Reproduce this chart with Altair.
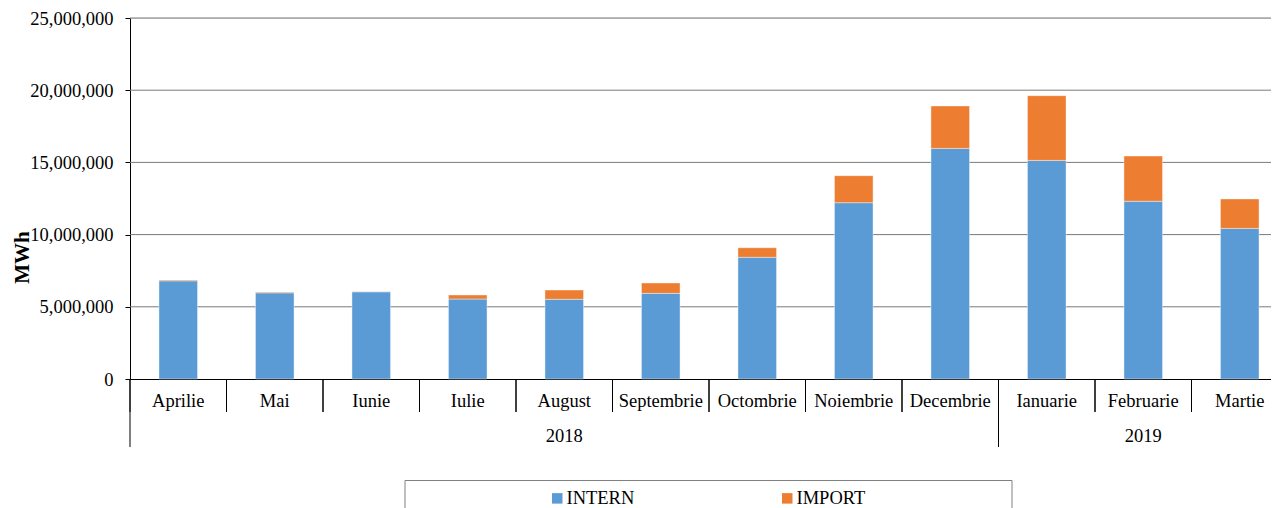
import altair as alt
import pandas as pd

months = ["Aprilie", "Mai", "Iunie", "Iulie", "August", "Septembrie", "Octombrie",
          "Noiembrie", "Decembrie", "Ianuarie", "Februarie", "Martie"]
years = ["2018"] * 9 + ["2019"] * 3
intern = [6800000, 5970000, 6040000, 5540000, 5520000, 5930000, 8430000,
          12210000, 15970000, 15140000, 12310000, 10430000]
imports = [60000, 50000, 25000, 280000, 640000, 720000, 660000,
           1870000, 2940000, 4480000, 3130000, 2040000]
series = ["INTERN", "IMPORT"]
colors = ["#5B9BD5", "#ED7D31"]
y_ticks = [0, 5000000, 10000000, 15000000, 20000000, 25000000]

FONT = "Liberation Serif"
FS = 18.5
PLOT_W = 1141      # visible plot width inside the page
SCALE_W = 1158     # full category range (reference plot runs past the right edge)

base = pd.DataFrame({"month": months, "year": years, "idx": list(range(len(months))),
                     "intern": intern, "imp": imports})

rows = []
for _, r in base.iterrows():
    rows.append({"month": r.month, "idx": r.idx, "series": "INTERN", "y0": 0, "y1": r.intern})
    rows.append({"month": r.month, "idx": r.idx, "series": "IMPORT", "y0": r.intern,
                 "y1": r.intern + r.imp})
long = pd.DataFrame(rows)

xscale = alt.Scale(domain=[0, len(months)], nice=False, zero=False, range=[0, SCALE_W])
yscale = alt.Scale(domain=[0, 25000000], nice=False)

grid = alt.Chart(pd.DataFrame({"v": y_ticks[1:]})).mark_rule(
    color="#7a7a7a", strokeWidth=1).encode(
    y=alt.Y("v:Q", scale=yscale), x=alt.value(0), x2=alt.value(SCALE_W))

bars = alt.Chart(long).transform_calculate(
    lo="datum.idx + 0.3", hi="datum.idx + 0.7"
).mark_bar(stroke="white", strokeWidth=0.6, strokeOpacity=0.7).encode(
    x=alt.X("lo:Q", scale=xscale,
            axis=alt.Axis(labels=False, ticks=False, grid=False, domainColor="black",
                          domainWidth=1, title=None)),
    x2="hi:Q",
    y=alt.Y("y0:Q", scale=yscale,
            axis=alt.Axis(values=y_ticks, format=",.0f", labelFont=FONT, labelFontSize=FS,
                          labelColor="black", tickColor="black", tickSize=5,
                          labelPadding=12, domainColor="black", grid=False,
                          title="MWh", titleFont=FONT, titleFontSize=21,
                          titleFontWeight="bold", titleColor="black", titleAngle=270,
                          titleAlign="center", titleBaseline="middle",
                          titleX=-108, titleY=239)),
    y2="y1:Q",
    color=alt.Color("series:N", scale=alt.Scale(domain=series, range=colors),
                    sort=series,
                    legend=alt.Legend(orient="none", legendX=418, legendY=471,
                                      direction="horizontal", title=None,
                                      symbolType="square", symbolSize=110,
                                      symbolStrokeWidth=0, labelFont=FONT,
                                      labelFontSize=FS, labelColor="black",
                                      labelOffset=0, columnPadding=143, padding=0)),
    order=alt.Order("y0:Q"),
)

sep_left = alt.Chart(base).mark_rule(color="black", strokeWidth=1).encode(
    x=alt.X("idx:Q", scale=xscale), y=alt.value(361), y2=alt.value(394))
sep_right = alt.Chart(base).transform_calculate(b="datum.idx + 1").mark_rule(
    color="black", strokeWidth=1).encode(
    x=alt.X("b:Q", scale=xscale), y=alt.value(361), y2=alt.value(394))

month_text = alt.Chart(base).transform_calculate(mid="datum.idx + 0.5").mark_text(
    font=FONT, fontSize=FS, color="black", align="center", baseline="middle").encode(
    x=alt.X("mid:Q", scale=xscale), y=alt.value(383), text="month:N")

year_agg = alt.Chart(base).transform_aggregate(
    lo="min(idx)", hi="max(idx)", groupby=["year"]
).transform_calculate(hi1="datum.hi + 1", mid="(datum.lo + datum.hi + 1) / 2")

year_text = year_agg.mark_text(font=FONT, fontSize=FS, color="black", align="center",
                               baseline="middle").encode(
    x=alt.X("mid:Q", scale=xscale), y=alt.value(418), text="year:N")
year_sep_l = year_agg.mark_rule(color="black", strokeWidth=1).encode(
    x=alt.X("lo:Q", scale=xscale), y=alt.value(361), y2=alt.value(429))
year_sep_r = year_agg.mark_rule(color="black", strokeWidth=1).encode(
    x=alt.X("hi1:Q", scale=xscale), y=alt.value(361), y2=alt.value(429))

legend_box = alt.Chart(pd.DataFrame({"k": [0]})).mark_rect(
    fill=None, stroke="#808080", strokeWidth=1).encode(
    x=alt.value(275), x2=alt.value(882), y=alt.value(462.5), y2=alt.value(520))

chart = alt.layer(
    grid, legend_box, bars, sep_left, sep_right, year_sep_l, year_sep_r,
    month_text, year_text
).properties(
    width=PLOT_W, height=361,
    autosize=alt.AutoSizeParams(type="none"),
    padding={"left": 122, "top": 10, "right": 0, "bottom": 130},
).configure_view(stroke=None).configure(background="white")

chart.save("out.html", embed_options={"renderer": "svg", "actions": False})
